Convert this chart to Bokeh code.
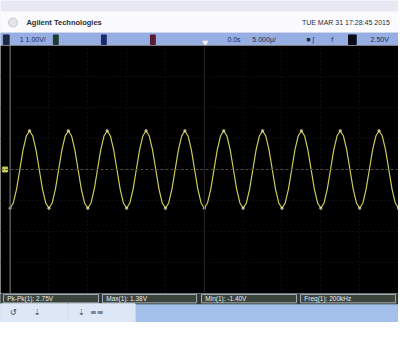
from bokeh.plotting import figure
from bokeh.layouts import column
from bokeh.models import Range1d, FixedTicker, Span, ColumnDataSource
from bokeh.core.properties import value
from bokeh.embed import file_html
from bokeh.resources import INLINE

# ---------------- data ----------------
# Channel 1 trace, in vertical divisions, sampled 12 times per horizontal division (10 divisions)
trace_div = [
    -1.25, -1.08, -0.63, 0.00, 0.63, 1.08, 1.25, 1.08, 0.63, 0.00, -0.63, -1.08,
    -1.25, -1.08, -0.63, 0.00, 0.63, 1.08, 1.25, 1.08, 0.63, 0.00, -0.63, -1.08,
    -1.25, -1.08, -0.63, 0.00, 0.63, 1.08, 1.25, 1.08, 0.63, 0.00, -0.63, -1.08,
    -1.25, -1.08, -0.63, 0.00, 0.63, 1.08, 1.25, 1.08, 0.63, 0.00, -0.63, -1.08,
    -1.25, -1.08, -0.63, 0.00, 0.63, 1.08, 1.25, 1.08, 0.63, 0.00, -0.63, -1.08,
    -1.25, -1.08, -0.63, 0.00, 0.63, 1.08, 1.25, 1.08, 0.63, 0.00, -0.63, -1.08,
    -1.25, -1.08, -0.63, 0.00, 0.63, 1.08, 1.25, 1.08, 0.63, 0.00, -0.63, -1.08,
    -1.25, -1.08, -0.63, 0.00, 0.63, 1.08, 1.25, 1.08, 0.63, 0.00, -0.63, -1.08,
    -1.25, -1.08, -0.63, 0.00, 0.63, 1.08, 1.25, 1.08, 0.63, 0.00, -0.63, -1.08,
    -1.25, -1.08, -0.63, 0.00, 0.63, 1.08, 1.25, 1.08, 0.63, 0.00, -0.63, -1.08,
    -1.25,
]
samples_per_div = 12
time_div = [i / samples_per_div for i in range(len(trace_div))]

brand = "Agilent Technologies"
timestamp = "TUE MAR 31 17:28:45 2015"
status_left = ["1  1.00V/"]
status_right = ["0.0s", "5.000\u03bc/", "\u25a0 \u222b", "f", "2.50V"]
measurements = ["Pk-Pk(1): 2.75V", "Max(1): 1.38V", "Min(1): -1.40V", "Freq(1): 200kHz"]

W = 398
FONT = value("Liberation Sans")

def base(h, xr, yr, bg):
    f = figure(width=W, height=h, x_range=xr, y_range=yr, output_backend="svg",
               toolbar_location=None, min_border=0, outline_line_color=None,
               background_fill_color=bg, border_fill_color=bg)
    f.axis.visible = False
    f.grid.visible = False
    return f

# ---------------- header (reference px 0..47) ----------------
hdr = base(45, Range1d(0, 414), Range1d(47, 0), "#e8e8f4")
hdr.quad(left=[0], right=[414], top=[12], bottom=[34], color="#fbfbfd")
hdr.quad(left=[0], right=[414], top=[34], bottom=[47], color="#97aee2")
hdr.scatter([13], [23], size=9, marker="circle", fill_color="#e4e4ea", line_color="#c8c8d2")
hdr.text(x=[27], y=[23], text=[brand], text_font=FONT, text_font_size="7.5px",
         text_font_style="bold", text_color="#2a2a3a", text_baseline="middle")
hdr.text(x=[405], y=[23], text=[timestamp], text_font=FONT, text_font_size="7px",
         text_color="#2a2a3a", text_baseline="middle", text_align="right")
# status bar badges
hdr.quad(left=[3, 55, 105, 156, 362], right=[9, 60, 110, 161, 370],
         top=[36, 36, 36, 36, 36], bottom=[46, 46, 46, 46, 46],
         color=["#1e2a40", "#1c3a30", "#1a2a6a", "#5a1a30", "#0a0a18"])
hdr.text(x=[20], y=[40.5], text=status_left, text_font=FONT, text_font_size="7px",
         text_color="#1a2a5a", text_baseline="middle")
hdr.text(x=[236, 262, 318, 344, 385], y=[40.5] * 5, text=status_right, text_font=FONT,
         text_font_size="7px", text_color="#1a2a5a", text_baseline="middle")
hdr.scatter([213], [44], marker="inverted_triangle", size=5, color="#f4f4f4")

# ---------------- scope screen (reference px 47..307) ----------------
scope = base(248, Range1d(-10 / 40.4, 10.0), Range1d(-4, 4), "#000000")
scope.grid.visible = True
scope.xgrid.ticker = FixedTicker(ticks=list(range(1, 10)))
scope.ygrid.ticker = FixedTicker(ticks=[-3, -2, -1, 1, 2, 3])
scope.grid.grid_line_color = "#1a1a1a"
scope.grid.grid_line_dash = "1 3"
scope.add_layout(Span(location=0, dimension="width", line_color="#4e4a3e", line_width=1, line_dash="3 2"))
scope.add_layout(Span(location=5, dimension="height", line_color="#262626", line_width=1))
scope.add_layout(Span(location=0, dimension="height", line_color="#6e6e6e", line_width=1.2))
src = ColumnDataSource(dict(t=time_div, v=trace_div))
scope.line("t", "v", source=src, line_color="#cccc55", line_width=1.2)
peaks_t = [t for t, v in zip(time_div, trace_div) if v == max(trace_div)]
peaks_v = [v for v in trace_div if v == max(trace_div)]
trough_t = [t for t, v in zip(time_div, trace_div) if v == min(trace_div)]
trough_v = [v for v in trace_div if v == min(trace_div)]
scope.scatter(peaks_t + trough_t, peaks_v + trough_v, size=2.5, color="#eeeec8", alpha=0.55)
scope.scatter([-0.13], [0], marker="square", size=5, color="#c8c855")

# ---------------- bottom bars (reference px 307..338) ----------------
bot = base(29, Range1d(0, 414), Range1d(31, 0), "#a3c0ea")
bot.quad(left=[0], right=[414], top=[0], bottom=[11], color="#2e3630")
bot.quad(left=[3, 106, 209, 312], right=[102, 204, 308, 411], top=[1] * 4, bottom=[10] * 4,
         fill_color="#3a443c", line_color="#a8b0b8", line_width=1)
bot.text(x=[7, 110, 213, 316], y=[5.5] * 4, text=measurements, text_font=FONT,
         text_font_size="6.5px", text_color="#e8ecef", text_baseline="middle")
bot.quad(left=[0, 71], right=[70, 140], top=[11, 11], bottom=[31, 31], color="#dde7f6")
bot.text(x=[13, 38, 84, 100], y=[20, 20, 20, 20], text=["\u21ba", "\u21e3", "\u21e3", "\u2261\u2261"],
         text_font=value("DejaVu Sans"), text_font_size="8px", text_color="#2a3a5a",
         text_baseline="middle", text_align="center")

layout = column(hdr, scope, bot, spacing=0)
open("out.html", "w").write(file_html(layout, INLINE))
